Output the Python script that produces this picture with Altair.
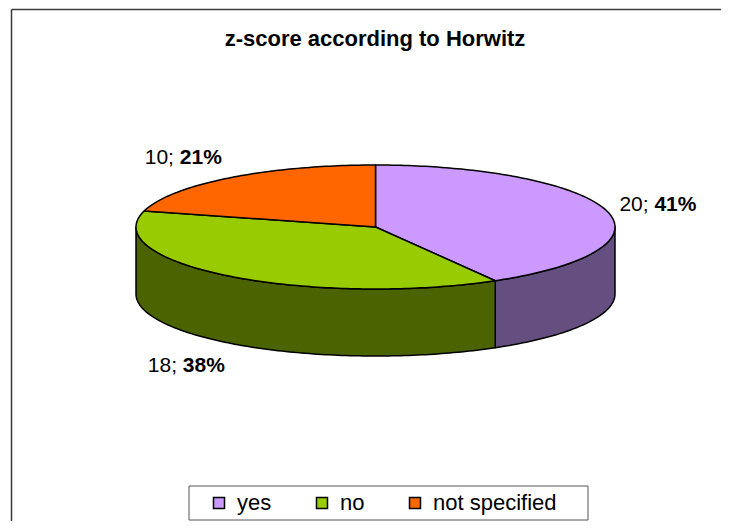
import math
import altair as alt
import pandas as pd

# ---- data ----
categories = ["yes", "no", "not specified"]
counts = [20, 18, 10]
count_labels = ["20; ", "18; ", "10; "]
pct_labels = ["41%", "38%", "21%"]
top_colors = ["#CC99FF", "#99CC00", "#FF6600"]
side_colors = ["#654F80", "#4B6300", "#A03F00"]
title_text = "z-score according to Horwitz"

# ---- layout ----
W, H = 713, 513
CX, CY = 367.5, 219.0      # centre of the top ellipse
A, B = 239.5, 62.0         # semi-axes of the top ellipse
DEPTH = 67.0               # thickness of the 3D pie
FONT = "Liberation Sans"
LABEL_SIZE = 21

REG = {**{d: 0.556 for d in "0123456789"}, ";": 0.278, " ": 0.278}
BOLD = {**{d: 0.556 for d in "0123456789"}, "%": 0.889}


def text_width(s, table, size):
    return sum(table.get(ch, 0.556) for ch in s) * size


def pt(theta_deg, drop=0.0):
    t = math.radians(theta_deg)
    return [CX + A * math.sin(t), CY - B * math.cos(t) + drop]


def arc(t1, t2, drop=0.0, step=1.0):
    n = max(2, int(math.ceil(abs(t2 - t1) / step)) + 1)
    return [pt(t1 + (t2 - t1) * i / (n - 1), drop) for i in range(n)]


total = sum(counts)
starts, ends = [], []
acc = 0
for c in counts:
    starts.append(acc / total * 360.0)
    acc += c
    ends.append(acc / total * 360.0)

top_features, side_features, label_rows = [], [], []
for cat, s, e, sc, cl, pl in zip(categories, starts, ends, side_colors,
                                 count_labels, pct_labels):
    ring = [[CX, CY]] + arc(s, e) + [[CX, CY]]
    top_features.append({"type": "Feature",
                         "properties": {"category": cat},
                         "geometry": {"type": "Polygon", "coordinates": [ring]}})
    lo, hi = max(s, 90.0), min(e, 270.0)
    if hi > lo:
        ring = arc(lo, hi) + arc(hi, lo, DEPTH)
        ring.append(ring[0])
        side_features.append({"type": "Feature",
                              "properties": {"category": cat, "shade": sc},
                              "geometry": {"type": "Polygon", "coordinates": [ring]}})
    mid = math.radians((s + e) / 2)
    below = math.cos(mid) < 0
    ax = CX + (A + (8 if below else 13)) * math.sin(mid)
    ay = CY - (B + 27) * math.cos(mid) + (DEPTH if below else 0) + 7.5
    wc = text_width(cl, REG, LABEL_SIZE)
    wp = text_width(pl, BOLD, LABEL_SIZE)
    left = ax if math.sin(mid) >= 0 else ax - wc - wp
    label_rows.append({"cnt": cl, "pct": pl, "xc": left, "xp": left + wc, "y": ay})

labels = pd.DataFrame(label_rows)
proj = dict(type="identity", scale=1, translate=[0, 0])
one = pd.DataFrame({"a": [0]})

frame_v = alt.Chart(one).mark_rule(color="#3a3a3a", strokeWidth=1.5).encode(
    x=alt.value(3.5), y=alt.value(1.5), y2=alt.value(H))
frame_h = alt.Chart(one).mark_rule(color="#3a3a3a", strokeWidth=1.5).encode(
    x=alt.value(3.5), x2=alt.value(W), y=alt.value(1.5))
legend_box = alt.Chart(one).mark_rect(fill="white", stroke="#555555", strokeWidth=1).encode(
    x=alt.value(181), x2=alt.value(580), y=alt.value(478), y2=alt.value(512))

sides = alt.Chart(alt.Data(values=side_features)).mark_geoshape(
    stroke="black", strokeWidth=1.5, strokeJoin="round").encode(
    color=alt.Color("properties.shade:N", scale=None)).project(**proj)

top = alt.Chart(alt.Data(values=top_features)).mark_geoshape(
    stroke="black", strokeWidth=1.5, strokeJoin="round").encode(
    color=alt.Color("properties.category:N",
                    scale=alt.Scale(domain=categories, range=top_colors),
                    legend=alt.Legend(title=None, orient="none", legendX=200, legendY=484,
                                      direction="horizontal", columns=3,
                                      symbolType="square", symbolSize=121,
                                      symbolStrokeColor="black", symbolStrokeWidth=1.5,
                                      symbolOpacity=1,
                                      labelFont=FONT, labelFontSize=22, labelColor="black",
                                      labelOffset=7, columnPadding=39, padding=0))
).project(**proj)

cnt_text = alt.Chart(labels).mark_text(
    font=FONT, fontSize=LABEL_SIZE, align="left", baseline="alphabetic", color="black").encode(
    longitude="xc:Q", latitude="y:Q", text="cnt:N").project(**proj)
pct_text = alt.Chart(labels).mark_text(
    font=FONT, fontSize=LABEL_SIZE, fontWeight="bold", align="left", baseline="alphabetic",
    color="black").encode(
    longitude="xp:Q", latitude="y:Q", text="pct:N").project(**proj)

title = alt.Chart(pd.DataFrame({"t": [title_text]})).mark_text(
    font=FONT, fontSize=22, fontWeight="bold", align="center", baseline="alphabetic",
    color="black").encode(x=alt.value(367), y=alt.value(38), text="t:N")

chart = alt.layer(frame_v, frame_h, legend_box, sides, top, cnt_text, pct_text, title).properties(
    width=W, height=H, padding=0, autosize="none", background="white"
).configure_view(stroke=None)

chart.save("out.html", embed_options={"renderer": "svg", "actions": False})
